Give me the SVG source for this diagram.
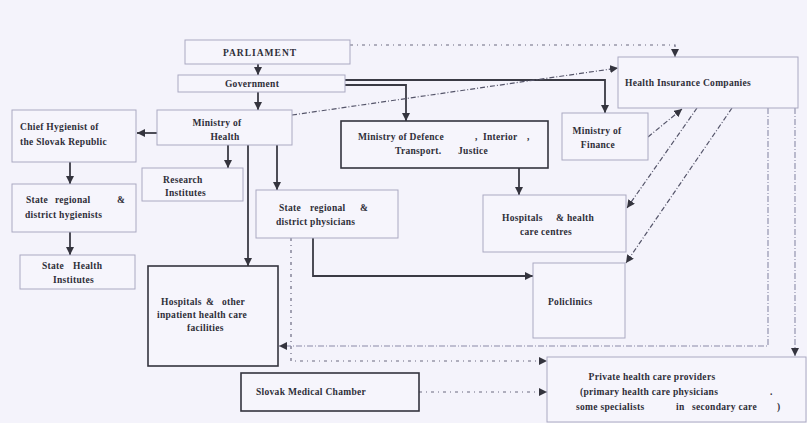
<svg xmlns="http://www.w3.org/2000/svg" width="807" height="423" viewBox="0 0 807 423">
  <defs>
    <marker id="ah" viewBox="0 0 10 10" refX="10" refY="5" markerWidth="8" markerHeight="8" markerUnits="userSpaceOnUse" orient="auto">
      <path d="M0,0 L10,5 L0,10 z" fill="#34343e"/>
    </marker>
    <style>
      .box { fill: #f6f5fc; stroke: #aaa9c2; stroke-width: 1; }
      .bold-box { fill: #f6f5fc; stroke: #34343e; stroke-width: 1.6; }
      .t { font-family: "Liberation Serif", "Times New Roman", serif; font-size: 9.5px; font-weight: bold; letter-spacing: 0.3px; fill: #2e2e38; }
      .c { text-anchor: middle; }
      .solid { fill: none; stroke: #3a3a44; stroke-width: 1.8; }
      .dot { fill: none; stroke: #6a6a80; stroke-width: 1.2; stroke-dasharray: 3 4 1 4; }
      .dashdot { fill: none; stroke: #55556a; stroke-width: 1.2; stroke-dasharray: 5 2 1 2; }
      .vline { fill: none; stroke: #8a8aa8; stroke-width: 1.1; stroke-dasharray: 6 2 1 2; }
    </style>
  </defs>

  <rect width="807" height="423" fill="#f4f3fb"/>

  <!-- connectors -->
  <g id="connectors">
    <!-- Parliament to Government to Ministry of Health -->
    <line class="solid" x1="258" y1="64" x2="258" y2="75" marker-end="url(#ah)"/>
    <line class="solid" x1="258" y1="92" x2="258" y2="110" marker-end="url(#ah)"/>
    <!-- Parliament to Health Insurance Companies -->
    <polyline class="dot" points="350,45 675,45 675,57" marker-end="url(#ah)"/>
    <!-- Government to Ministry of Finance / Defence -->
    <polyline class="solid" points="345,80 605,80 605,113" marker-end="url(#ah)"/>
    <polyline class="solid" points="345,85 406,85 406,121" marker-end="url(#ah)"/>
    <!-- Ministry of Health to Health Insurance Companies -->
    <line class="dashdot" x1="292" y1="115" x2="618" y2="68" marker-end="url(#ah)"/>
    <!-- Ministry of Health branches -->
    <line class="solid" x1="157" y1="133" x2="137" y2="133" marker-end="url(#ah)"/>
    <line class="solid" x1="228" y1="145" x2="228" y2="168" marker-end="url(#ah)"/>
    <line class="solid" x1="248" y1="145" x2="248" y2="266" marker-end="url(#ah)"/>
    <line class="solid" x1="277" y1="145" x2="277" y2="190" marker-end="url(#ah)"/>
    <!-- hygienist chain -->
    <line class="solid" x1="70" y1="162" x2="70" y2="184" marker-end="url(#ah)"/>
    <line class="solid" x1="70" y1="232" x2="70" y2="255" marker-end="url(#ah)"/>
    <!-- Ministry of Finance to Health Insurance Companies -->
    <line class="dashdot" x1="648" y1="137" x2="682" y2="109" marker-end="url(#ah)"/>
    <!-- Ministry of Defence to Hospitals & health care centres -->
    <line class="solid" x1="519" y1="168" x2="519" y2="195" marker-end="url(#ah)"/>
    <!-- State physicians to Policlinics -->
    <polyline class="solid" points="313,238 313,276 533,276" marker-end="url(#ah)"/>
    <!-- State physicians to private providers -->
    <polyline class="dot" points="291,238 291,361 547,361" marker-end="url(#ah)"/>
    <!-- Health Insurance Companies to providers -->
    <line class="dashdot" x1="697" y1="108" x2="627" y2="208" marker-end="url(#ah)"/>
    <line class="dashdot" x1="732" y1="108" x2="626" y2="263" marker-end="url(#ah)"/>
    <polyline class="vline" points="768,108 768,346 279,346" marker-end="url(#ah)"/>
    <line class="vline" x1="795" y1="108" x2="795" y2="356" marker-end="url(#ah)"/>
    <!-- Slovak Medical Chamber to private providers -->
    <line class="dot" x1="419" y1="392" x2="547" y2="392" marker-end="url(#ah)"/>
  </g>

  <g id="parliament">
    <rect class="box" x="185" y="40" width="165" height="24"/>
    <text class="t c" x="260" y="56" style="letter-spacing:1px">PARLIAMENT</text>
  </g>

  <g id="government">
    <rect class="box" x="178" y="75" width="167" height="17"/>
    <text class="t c" x="252" y="87">Government</text>
  </g>

  <g id="health-insurance">
    <rect class="box" x="618" y="57" width="180" height="51"/>
    <text class="t" x="625" y="86">Health Insurance Companies</text>
  </g>

  <g id="ministry-health">
    <rect class="box" x="157" y="110" width="135" height="35"/>
    <text class="t c" x="217" y="126">Ministry of</text>
    <text class="t c" x="225" y="140">Health</text>
  </g>

  <g id="chief-hygienist">
    <rect class="box" x="12" y="110" width="124" height="52"/>
    <text class="t" x="20" y="130">Chief Hygienist of</text>
    <text class="t" x="20" y="145">the Slovak Republic</text>
  </g>

  <g id="regional-hygienists">
    <rect class="box" x="12" y="184" width="124" height="48"/>
    <text class="t" y="203"><tspan x="26">State</tspan><tspan x="55">regional</tspan><tspan x="117">&amp;</tspan></text>
    <text class="t" x="25" y="218">district hygienists</text>
  </g>

  <g id="health-institutes">
    <rect class="box" x="20" y="255" width="115" height="34"/>
    <text class="t" y="269"><tspan x="42">State</tspan><tspan x="73">Health</tspan></text>
    <text class="t" x="53" y="283">Institutes</text>
  </g>

  <g id="research-institutes">
    <rect class="box" x="142" y="168" width="101" height="33"/>
    <text class="t" x="163" y="183">Research</text>
    <text class="t" x="165" y="196">Institutes</text>
  </g>

  <g id="regional-physicians">
    <rect class="box" x="256" y="190" width="142" height="48"/>
    <text class="t" y="211"><tspan x="279">State</tspan><tspan x="310">regional</tspan><tspan x="360">&amp;</tspan></text>
    <text class="t" x="276" y="225">district physicians</text>
  </g>

  <g id="ministry-defence">
    <rect class="bold-box" x="341" y="121" width="207" height="47"/>
    <text class="t" y="140"><tspan x="358">Ministry of Defence</tspan><tspan x="475">,</tspan><tspan x="483">Interior</tspan><tspan x="527">,</tspan></text>
    <text class="t" y="154"><tspan x="395">Transport.</tspan><tspan x="458">Justice</tspan></text>
  </g>

  <g id="ministry-finance">
    <rect class="box" x="562" y="113" width="86" height="47"/>
    <text class="t c" x="597" y="134">Ministry of</text>
    <text class="t c" x="598" y="148">Finance</text>
  </g>

  <g id="hospitals-centres">
    <rect class="box" x="483" y="195" width="143" height="57"/>
    <text class="t" y="221"><tspan x="502">Hospitals</tspan><tspan x="556">&amp;</tspan><tspan x="567">health</tspan></text>
    <text class="t" x="520" y="235">care centres</text>
  </g>

  <g id="policlinics">
    <rect class="box" x="533" y="263" width="92" height="75"/>
    <text class="t" x="548" y="305">Policlinics</text>
  </g>

  <g id="hospitals-inpatient">
    <rect class="bold-box" x="148" y="266" width="130" height="100"/>
    <text class="t" y="305"><tspan x="161">Hospitals</tspan><tspan x="206">&amp;</tspan><tspan x="222">other</tspan></text>
    <text class="t" x="157" y="318">inpatient health care</text>
    <text class="t" x="187" y="331">facilities</text>
  </g>

  <g id="medical-chamber">
    <rect class="bold-box" x="241" y="373" width="178" height="38"/>
    <text class="t" x="256" y="395">Slovak Medical Chamber</text>
  </g>

  <g id="private-providers">
    <rect class="box" x="547" y="357" width="259" height="65"/>
    <text class="t c" x="652" y="380">Private health care providers</text>
    <text class="t" y="395"><tspan x="580">(primary health care physicians</tspan><tspan x="770">.</tspan></text>
    <text class="t" y="410"><tspan x="576">some specialists</tspan><tspan x="676">in</tspan><tspan x="692">secondary care</tspan><tspan x="777">)</tspan></text>
  </g>
</svg>
